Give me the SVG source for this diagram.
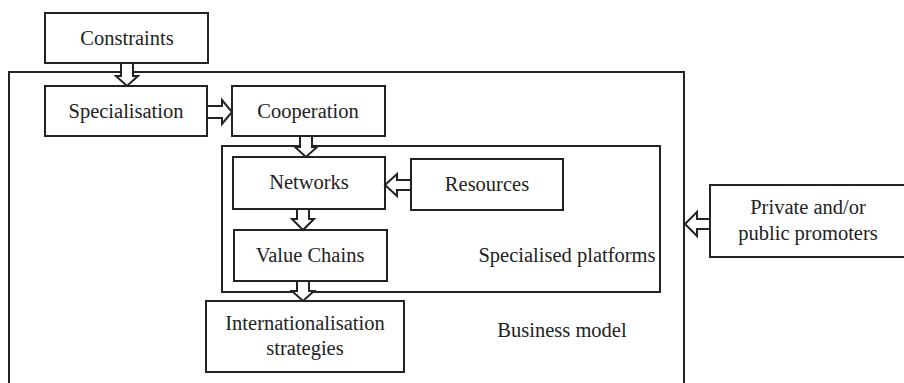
<svg xmlns="http://www.w3.org/2000/svg" width="904" height="383" viewBox="0 0 904 383">
<style>
.box{fill:#fff;stroke:#222;stroke-width:2}
.frame{fill:none;stroke:#222;stroke-width:2}
.arr{fill:#fff;stroke:#222;stroke-width:2;stroke-linejoin:miter}
text{font-family:"Liberation Serif","Times New Roman",serif;font-size:20.5px;fill:#222;text-anchor:middle}
</style>
<rect width="904" height="383" fill="#fff"/>
<g id="business-model">
<path class="frame" d="M9,384 V72 H684 V384"/>
<text x="562" y="337">Business model</text>
</g>
<g id="specialised-platforms">
<rect class="frame" x="222" y="146" width="438" height="146"/>
<text x="567" y="262">Specialised platforms</text>
</g>
<g id="constraints">
<rect class="box" x="45" y="13" width="163" height="50"/>
<text x="127" y="45">Constraints</text>
</g>
<g id="specialisation">
<rect class="box" x="45" y="86" width="162" height="50"/>
<text x="126" y="118">Specialisation</text>
</g>
<g id="cooperation">
<rect class="box" x="232" y="86" width="153" height="50"/>
<text x="308" y="118">Cooperation</text>
</g>
<g id="networks">
<rect class="box" x="233" y="157" width="152" height="52"/>
<text x="309" y="189">Networks</text>
</g>
<g id="resources">
<rect class="box" x="411" y="159" width="152" height="51"/>
<text x="487" y="191">Resources</text>
</g>
<g id="value-chains">
<rect class="box" x="234" y="230" width="153" height="51"/>
<text x="310" y="262">Value Chains</text>
</g>
<g id="internationalisation">
<rect class="box" x="206" y="301" width="198" height="71"/>
<text x="305" y="330">Internationalisation</text>
<text x="305" y="355">strategies</text>
</g>
<g id="promoters">
<rect class="box" x="710" y="185" width="200" height="72"/>
<text x="808" y="214">Private and/or</text>
<text x="808" y="240">public promoters</text>
</g>
<g id="connectors">
<polygon class="arr" points="121,63 133,63 133,76 138,76 127,86 116,76 121,76"/>
<polygon class="arr" points="207,106 222,106 222,100 232,112 222,124 222,118 207,118"/>
<polygon class="arr" points="300,136 312,136 312,147 317,147 306,157 295,147 300,147"/>
<polygon class="arr" points="411,180 397,180 397,174 385,185 397,196 397,190 411,190"/>
<polygon class="arr" points="297,209 309,209 309,219 314,219 303,230 292,219 297,219"/>
<polygon class="arr" points="297,281 309,281 309,291 314,291 303,301 292,291 297,291"/>
<polygon class="arr" points="710,219 697,219 697,212 685,224 697,236 697,229 710,229"/>
</g>
</svg>
